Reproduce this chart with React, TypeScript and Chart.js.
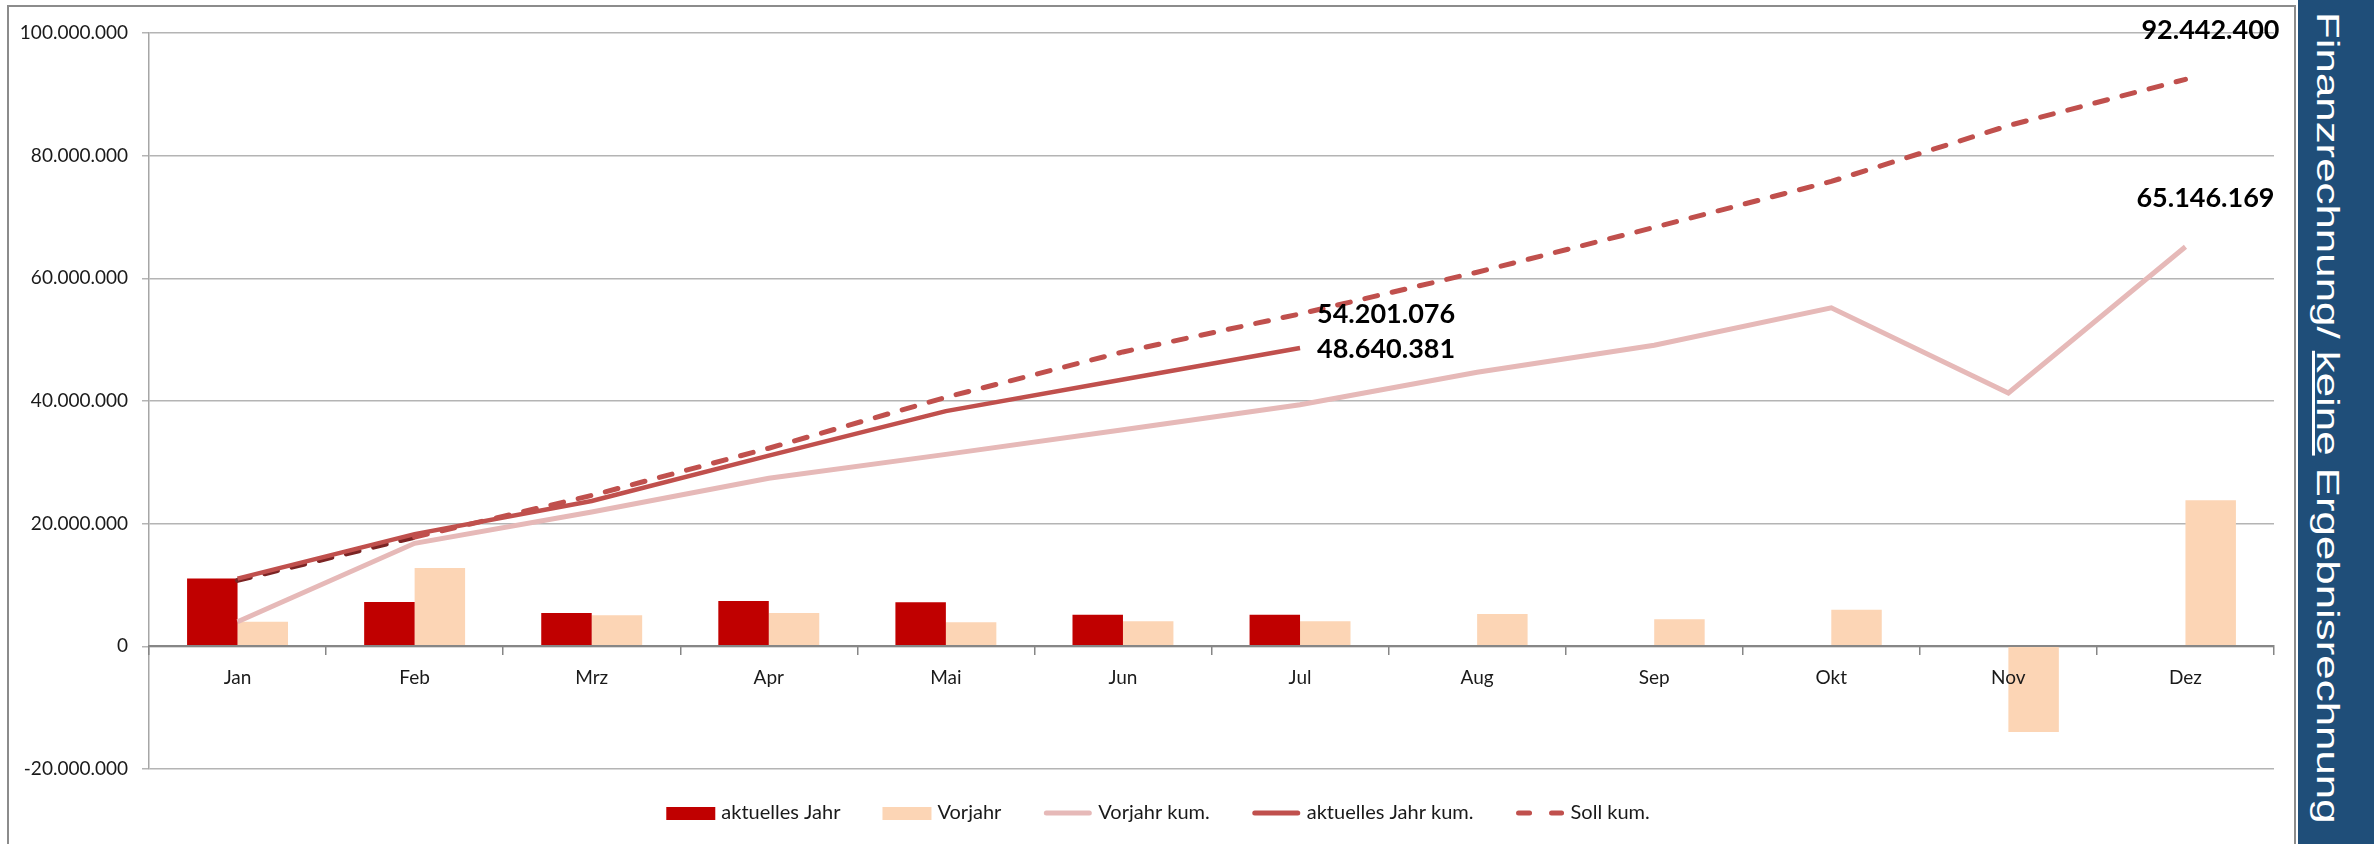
import React, { useEffect, useRef } from "react";
import { Chart, registerables } from "chart.js";

Chart.register(...registerables);

const months = ["Jan", "Feb", "Mrz", "Apr", "Mai", "Jun", "Jul", "Aug", "Sep", "Okt", "Nov", "Dez"];

const aktuellesJahr: (number | null)[] = [11050000, 7220000, 5430000, 7390000, 7200000, 5130000, 5130000, null, null, null, null, null];
const vorjahr: number[] = [4020000, 12770000, 5050000, 5430000, 3910000, 4070000, 4070000, 5270000, 4400000, 5980000, -13960000, 23800000];
const vorjahrKum: number[] = [4020000, 16800000, 21900000, 27400000, 31300000, 35300000, 39400000, 44700000, 49100000, 55200000, 41300000, 65146169];
const aktuellesJahrKum: (number | null)[] = [11050000, 18300000, 23700000, 31100000, 38350000, 43500000, 48640381, null, null, null, null, null];
const sollKum: number[] = [10750000, 17800000, 24600000, 32300000, 40600000, 48000000, 54201076, 61000000, 68300000, 75800000, 84900000, 92442400];

const yMin = -20000000;
const yMax = 100000000;
const yStep = 20000000;

const seriesLabels = ["aktuelles Jahr", "Vorjahr", "Vorjahr kum.", "aktuelles Jahr kum.", "Soll kum."];
const panelTitleA = "Finanzrechnung/ ";
const panelTitleB = "keine";
const panelTitleC = " Ergebnisrechnung";

function fmt(v: number): string {
  const s = Math.round(Math.abs(v)).toString().replace(/\B(?=(\d{3})+(?!\d))/g, ".");
  return (v < 0 ? "-" : "") + s;
}

// which point values get a data label, and where relative to the point
const labelSpecs = [
  { dataset: 4, index: 11, dx: 25, dy: -49, align: "center" },
  { dataset: 2, index: 11, dx: 20, dy: -48, align: "center" },
  { dataset: 4, index: 6, dx: 17, dy: 0, align: "left" },
  { dataset: 3, index: 6, dx: 17, dy: 1, align: "left" },
];

const dataLabelPlugin = {
  id: "dataLabels",
  afterDraw(chart: any) {
    const ctx = chart.ctx;
    ctx.save();
    ctx.font = "bold 27px Lato";
    ctx.fillStyle = "#000";
    ctx.textBaseline = "middle";
    labelSpecs.forEach((s) => {
      const meta = chart.getDatasetMeta(s.dataset);
      const el = meta.data[s.index];
      const v = chart.data.datasets[s.dataset].data[s.index];
      if (!el || v == null) return;
      ctx.textAlign = s.align;
      ctx.fillText(fmt(v), el.x + s.dx, el.y + s.dy);
    });
    ctx.restore();
  },
};

const legendPlugin = {
  id: "customLegend",
  afterDraw(chart: any) {
    const ctx = chart.ctx;
    const ds = chart.data.datasets;
    ctx.save();
    ctx.font = "20px Lato";
    const boxW = 49;
    const gapText = 6;
    const gapItem = 42;
    const widths = ds.map((d: any) => boxW + gapText + ctx.measureText(d.label).width);
    const total = widths.reduce((a: number, b: number) => a + b, 0) + gapItem * (ds.length - 1);
    let x = 1158 - total / 2;
    const y = 813;
    ds.forEach((d: any, i: number) => {
      if (d.type === "bar") {
        ctx.fillStyle = d.backgroundColor;
        ctx.fillRect(x, y - 6, boxW, 13);
      } else {
        ctx.strokeStyle = d.borderColor;
        ctx.lineWidth = 5;
        ctx.lineCap = "round";
        ctx.setLineDash(d.borderDash && d.borderDash.length ? [11, 22] : []);
        ctx.beginPath();
        ctx.moveTo(x + 3, y);
        ctx.lineTo(x + boxW - 3, y);
        ctx.stroke();
        ctx.setLineDash([]);
      }
      ctx.fillStyle = "#1a1a1a";
      ctx.textAlign = "left";
      ctx.textBaseline = "middle";
      ctx.fillText(d.label, x + boxW + gapText, y);
      x += widths[i] + gapItem;
    });
    ctx.restore();
  },
};

export default function App() {
  const ref = useRef<HTMLCanvasElement>(null);

  useEffect(() => {
    if (!ref.current) return;
    const tickFont = { family: "Lato", size: 19 };
    const chart = new Chart(ref.current, {
      type: "bar",
      data: {
        labels: months,
        datasets: [
          {
            type: "bar",
            label: seriesLabels[0],
            data: aktuellesJahr,
            backgroundColor: "#c00000",
            categoryPercentage: 0.57,
            barPercentage: 1.0,
            order: 10,
          },
          {
            type: "bar",
            label: seriesLabels[1],
            data: vorjahr,
            backgroundColor: "#fcd5b5",
            categoryPercentage: 0.57,
            barPercentage: 1.0,
            order: 10,
          },
          {
            type: "line",
            label: seriesLabels[2],
            data: vorjahrKum,
            borderColor: "#e6b9b8",
            borderWidth: 5,
            pointRadius: 0,
            tension: 0,
            order: 3,
          },
          {
            type: "line",
            label: seriesLabels[3],
            data: aktuellesJahrKum,
            borderColor: "#c0504d",
            borderWidth: 4.5,
            pointRadius: 0,
            tension: 0,
            order: 1,
          },
          {
            type: "line",
            label: seriesLabels[4],
            data: sollKum,
            borderColor: "#c0504d",
            borderWidth: 5,
            borderDash: [13, 15],
            borderCapStyle: "round",
            pointRadius: 0,
            tension: 0,
            order: 2,
            segment: {
              borderColor: (c: any) => (c.p0DataIndex === 0 ? "#7b2424" : undefined),
            },
          },
        ] as any,
      },
      options: {
        responsive: false,
        animation: false,
        layout: { padding: { top: 33, right: 22, bottom: 75, left: 0 } },
        plugins: {
          legend: { display: false },
          tooltip: { enabled: false },
        },
        scales: {
          x: {
            type: "category",
            position: { y: 0 } as any,
            offset: true,
            grid: {
              drawOnChartArea: false,
              drawTicks: true,
              tickLength: 8,
              color: "#868686",
              lineWidth: 1.5,
              offset: true,
              z: 1,
            },
            border: { color: "#868686", width: 2, z: 1 },
            ticks: { font: tickFont, color: "#1a1a1a", padding: 12, z: 1 },
          },
          y: {
            min: yMin,
            max: yMax,
            ticks: {
              stepSize: yStep,
              font: tickFont,
              color: "#1a1a1a",
              padding: 14,
              callback: (v: any) => fmt(Number(v)),
            },
            grid: { color: "#b4b4b4", lineWidth: 1.5, tickLength: 7 },
            border: { color: "#a6a6a6", width: 1.5 },
            afterFit: (s: any) => {
              s.width = 149;
            },
          },
        },
      } as any,
      plugins: [dataLabelPlugin, legendPlugin],
    });
    return () => chart.destroy();
  }, []);

  return (
    <div
      style={{
        position: "fixed",
        left: 0,
        top: 0,
        width: 2374,
        height: 844,
        background: "#fff",
        overflow: "hidden",
      }}
    >
      <div
        style={{
          position: "absolute",
          left: 7,
          top: 5,
          width: 2289,
          height: 900,
          border: "2px solid #8c8c8c",
          boxSizing: "border-box",
        }}
      />
      <canvas
        ref={ref}
        width={2296}
        height={844}
        style={{ position: "absolute", left: 0, top: 0, width: 2296, height: 844 }}
      />
      <div
        style={{
          position: "absolute",
          left: 2298,
          top: 0,
          width: 76,
          height: 844,
          background: "#1f4e79",
          overflow: "hidden",
        }}
      >
        <div
          style={{
            position: "absolute",
            left: 46,
            top: 12,
            whiteSpace: "nowrap",
            fontFamily: '"Liberation Sans", Arial, sans-serif',
            fontSize: 32,
            lineHeight: 1,
            color: "#fff",
            transformOrigin: "0 0",
            transform: "rotate(90deg) scaleX(1.37)",
          }}
        >
          {panelTitleA}
          <span style={{ textDecoration: "underline" }}>{panelTitleB}</span>
          {panelTitleC}
        </div>
      </div>
    </div>
  );
}
